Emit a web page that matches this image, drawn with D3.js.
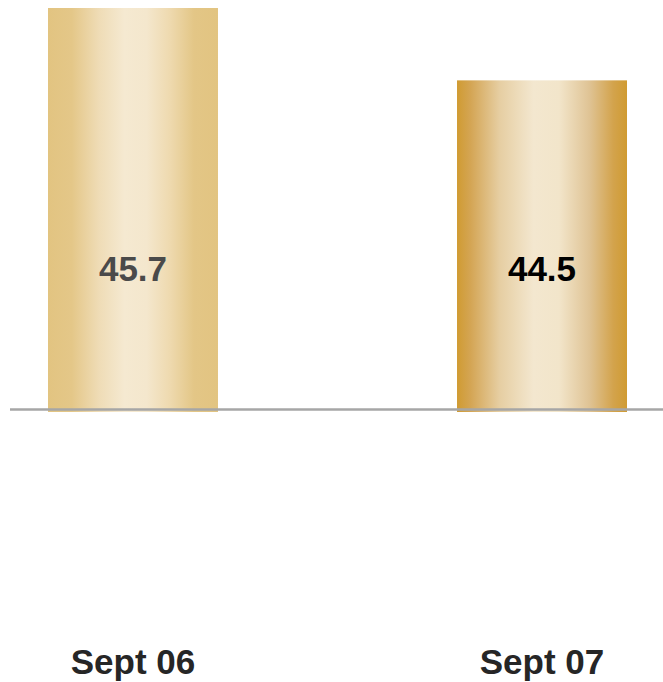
<!DOCTYPE html>
<html>
<head>
<meta charset="utf-8">
<script src="https://cdn.jsdelivr.net/npm/d3@7/dist/d3.min.js"></script>
<style>
  html, body { margin: 0; padding: 0; background: #ffffff; }
  svg { display: block; font-family: "Liberation Sans", Arial, sans-serif; }
</style>
</head>
<body>
<svg id="chart" width="663" height="682"></svg>
<script>
// Data
const categories = ["Sept 06", "Sept 07"];
const values = [45.7, 44.5];
const valueColors = ["#4a4a4a", "#000000"];

// Per-bar metallic gradient stops
const gradientStops = [
  [
    [0, "#e2c481"], [0.14, "#e4c788"], [0.3, "#efdcb6"], [0.45, "#f5e9d1"],
    [0.58, "#f4e7cd"], [0.72, "#eed9ae"], [0.86, "#e3c686"], [1, "#e2c481"]
  ],
  [
    [0, "#d09b32"], [0.08, "#d4a554"], [0.25, "#e6cea2"], [0.45, "#f3e7cf"],
    [0.6, "#f2e5ca"], [0.78, "#dfc394"], [0.92, "#d3a34c"], [1, "#d09b32"]
  ]
];

const width = 663, height = 682;
const baselineY = 412;

const svg = d3.select("#chart");

const x = d3.scaleBand()
  .domain(categories)
  .range([10, 665])
  .paddingInner(0.5844)
  .paddingOuter(0.0929);

const y = d3.scaleLinear()
  .domain([39, 45.7])
  .range([baselineY, 8]);

const defs = svg.append("defs");
gradientStops.forEach((stops, i) => {
  const g = defs.append("linearGradient")
    .attr("id", "barGrad" + i)
    .attr("x1", "0%").attr("x2", "100%")
    .attr("y1", "0%").attr("y2", "0%");
  stops.forEach(([o, c]) => g.append("stop").attr("offset", o).attr("stop-color", c));
});

// Bars
svg.append("g")
  .selectAll("rect")
  .data(values)
  .join("rect")
  .attr("x", (d, i) => x(categories[i]))
  .attr("y", d => y(d))
  .attr("width", x.bandwidth())
  .attr("height", d => baselineY - y(d))
  .attr("fill", (d, i) => `url(#barGrad${i})`);

// Baseline
svg.append("line")
  .attr("x1", 10).attr("x2", width)
  .attr("y1", baselineY - 2.5).attr("y2", baselineY - 2.5)
  .attr("stroke", "#a6a6a6")
  .attr("stroke-width", 2.5);

// Value labels
svg.append("g")
  .selectAll("text")
  .data(values)
  .join("text")
  .attr("x", (d, i) => x(categories[i]) + x.bandwidth() / 2)
  .attr("y", baselineY - 131)
  .attr("text-anchor", "middle")
  .attr("font-size", 35)
  .attr("font-weight", "bold")
  .attr("fill", (d, i) => valueColors[i])
  .text(d => d.toFixed(1));

// Category labels
svg.append("g")
  .selectAll("text")
  .data(categories)
  .join("text")
  .attr("x", d => x(d) + x.bandwidth() / 2)
  .attr("y", 674)
  .attr("text-anchor", "middle")
  .attr("font-size", 35)
  .attr("font-weight", "bold")
  .attr("fill", "#262626")
  .text(d => d);
</script>
</body>
</html>
